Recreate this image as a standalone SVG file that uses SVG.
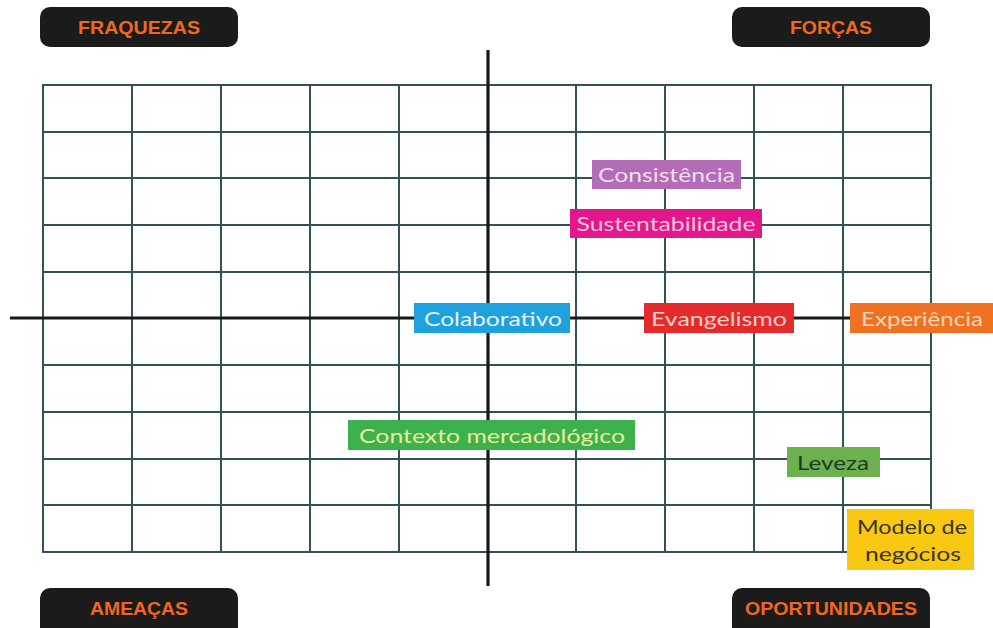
<svg xmlns="http://www.w3.org/2000/svg" width="993" height="628" viewBox="0 0 993 628">
  <style>
    .grid { stroke: #34505a; stroke-width: 2; fill: none; }
    .axis { stroke: #15191b; stroke-width: 3.2; }
    .corner rect { fill: #1b1b1b; }
    .corner text { fill: #f0671f; font-family: "Liberation Sans", Arial, sans-serif; font-weight: bold; font-size: 19px; text-anchor: middle; }
    .tag text { font-family: Lato, "Open Sans", sans-serif; font-size: 20px; text-anchor: middle; }
  </style>
  <rect width="993" height="628" fill="#ffffff"/>

  <!-- grid 10 x 10 -->
  <g id="grid" class="grid">
    <rect x="43" y="85" width="888" height="467"/>
    <path d="M132 85V552M221 85V552M310 85V552M399 85V552M576 85V552M665 85V552M754 85V552M843 85V552"/>
    <path d="M43 132H931M43 178H931M43 225H931M43 272H931M43 365H931M43 412H931M43 459H931M43 505H931"/>
  </g>

  <!-- axes -->
  <g id="axes" class="axis">
    <line x1="488" y1="50" x2="488" y2="586"/>
    <line x1="10" y1="318" x2="990" y2="318"/>
  </g>

  <!-- quadrant headings -->
  <g id="fraquezas" class="corner">
    <rect x="40" y="7" width="198" height="40" rx="10"/>
    <text x="139" y="34" textLength="122" lengthAdjust="spacingAndGlyphs">FRAQUEZAS</text>
  </g>
  <g id="forcas" class="corner">
    <rect x="732" y="7" width="198" height="40" rx="10"/>
    <text x="831" y="34" textLength="82" lengthAdjust="spacingAndGlyphs">FORÇAS</text>
  </g>
  <g id="ameacas" class="corner">
    <rect x="40" y="588" width="198" height="50" rx="10"/>
    <text x="139" y="615" textLength="98" lengthAdjust="spacingAndGlyphs">AMEAÇAS</text>
  </g>
  <g id="oportunidades" class="corner">
    <rect x="732" y="588" width="198" height="50" rx="10"/>
    <text x="831" y="615" textLength="172" lengthAdjust="spacingAndGlyphs">OPORTUNIDADES</text>
  </g>

  <!-- factor tags -->
  <g id="consistencia" class="tag">
    <rect x="592" y="160" width="149" height="29" fill="#b36cb6"/>
    <text x="666.5" y="182" fill="#f3dcf2" textLength="137" lengthAdjust="spacingAndGlyphs">Consistência</text>
  </g>
  <g id="sustentabilidade" class="tag">
    <rect x="570" y="209" width="192" height="29" fill="#e3168b"/>
    <text x="666" y="231" fill="#f6c6de" textLength="179" lengthAdjust="spacingAndGlyphs">Sustentabilidade</text>
  </g>
  <g id="colaborativo" class="tag">
    <rect x="414" y="303" width="156" height="30" fill="#1ea1dc"/>
    <text x="493" y="326" fill="#e6f3fa" textLength="138" lengthAdjust="spacingAndGlyphs">Colaborativo</text>
  </g>
  <g id="evangelismo" class="tag">
    <rect x="644" y="303" width="150" height="30" fill="#e52a2b"/>
    <text x="719" y="326" fill="#f6cfc6" textLength="136" lengthAdjust="spacingAndGlyphs">Evangelismo</text>
  </g>
  <g id="experiencia" class="tag">
    <rect x="850" y="303" width="143" height="30" fill="#f07122"/>
    <text x="922" y="326" fill="#fad5b6" textLength="122" lengthAdjust="spacingAndGlyphs">Experiência</text>
  </g>
  <g id="contexto" class="tag">
    <rect x="348" y="420" width="287" height="30" fill="#3db14b"/>
    <text x="492" y="443" fill="#ecec9c" textLength="266" lengthAdjust="spacingAndGlyphs">Contexto mercadológico</text>
  </g>
  <g id="leveza" class="tag">
    <rect x="787" y="447" width="93" height="30" fill="#6cb14d"/>
    <text x="833" y="470" fill="#1f3a26" textLength="72" lengthAdjust="spacingAndGlyphs">Leveza</text>
  </g>
  <g id="modelo" class="tag">
    <rect x="847" y="509" width="127" height="61" fill="#f8c812"/>
    <text x="912" y="534" fill="#3a3328" textLength="110" lengthAdjust="spacingAndGlyphs">Modelo de</text>
    <text x="913" y="561" fill="#3a3328" textLength="96" lengthAdjust="spacingAndGlyphs">negócios</text>
  </g>
</svg>
